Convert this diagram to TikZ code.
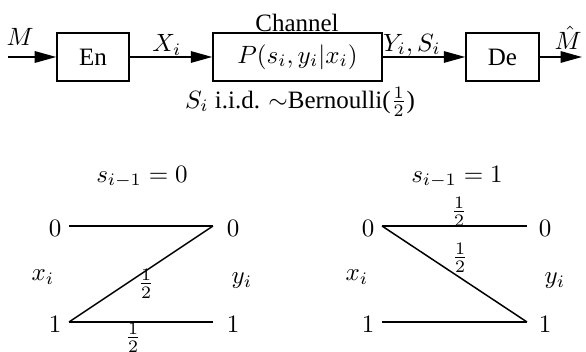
\documentclass[tikz,border=0pt]{standalone}
\usepackage{amsmath}
\usepackage[no-math]{fontspec}
\setmainfont{Liberation Serif}
\usetikzlibrary{arrows.meta, positioning}
\tikzset{
  blk/.style   = {draw, semithick, minimum height=19.2pt, inner sep=0pt},
  sig/.style   = {-{Triangle[length=8.6pt,width=4.6pt]}, semithick},
  trans/.style = {semithick},
  half/.style  = {inner sep=1pt}
}

\begin{document}
\begin{tikzpicture}[x=0.4pt, y=-0.4pt]
\useasboundingbox (0,0) rectangle (586,352);
% encoder, channel, decoder
\coordinate (src) at (8,57);
\node[blk, minimum width=28.8pt] (en) at (93,57) {En};
\node[blk, minimum width=67.6pt] (ch) at (297.5,57) {$P(s_i,y_i|x_i)$};
\node[blk, minimum width=29.2pt] (de) at (502.5,57) {De};
\coordinate (sink) at (582,57);
\node[anchor=base] (chname) at (297,32) {Channel};
\node (state) at (300,102) {$S_i$ i.i.d. $\sim$Bernoulli($\frac{1}{2}$)};
\draw[sig] (src) -- (en);
\draw[sig] (en) -- (ch);
\draw[sig] (ch) -- (de);
\draw[sig] (de) -- (sink);
\node (m) at (20,37) {$M$};
\node (xi) at (167,45) {$X_i$};
\node (yisi) at (412,45) {$Y_i,S_i$};
\node (mhat) at (568,38) {$\hat{M}$};

% channel for s_{i-1}=0
\node (ta) at (142,177) {$s_{i-1}=0$};
\coordinate (a0) at (69,226);
\coordinate (a1) at (69,322);
\coordinate (b0) at (213,226);
\coordinate (b1) at (213,322);
\node (ax0) at (55,228) {$0$};
\node (ax1) at (55,324) {$1$};
\node (by0) at (233,228) {$0$};
\node (by1) at (233,324) {$1$};
\node (ax) at (43,277) {$x_i$};
\node (by) at (242,281) {$y_i$};
\draw[trans] (a0) -- (b0);
\draw[trans] (a1) -- (b1);
\draw[trans] (a1) -- (b0);
\node[half] (ha) at (146,284) {$\frac{1}{2}$};
\node[half] (hb) at (133,338) {$\frac{1}{2}$};

% channel for s_{i-1}=1
\node (tc) at (457,177) {$s_{i-1}=1$};
\coordinate (c0) at (382,226);
\coordinate (c1) at (382,322);
\coordinate (d0) at (527,226);
\coordinate (d1) at (527,322);
\node (cx0) at (368,228) {$0$};
\node (cx1) at (368,324) {$1$};
\node (dy0) at (545,228) {$0$};
\node (dy1) at (545,324) {$1$};
\node (cx) at (357,277) {$x_i$};
\node (dy) at (555,281) {$y_i$};
\draw[trans] (c0) -- (d0);
\draw[trans] (c1) -- (d1);
\draw[trans] (c0) -- (d1);
\node[half] (hc) at (459,212) {$\frac{1}{2}$};
\node[half] (hd) at (460,258) {$\frac{1}{2}$};
\end{tikzpicture}
\end{document}
